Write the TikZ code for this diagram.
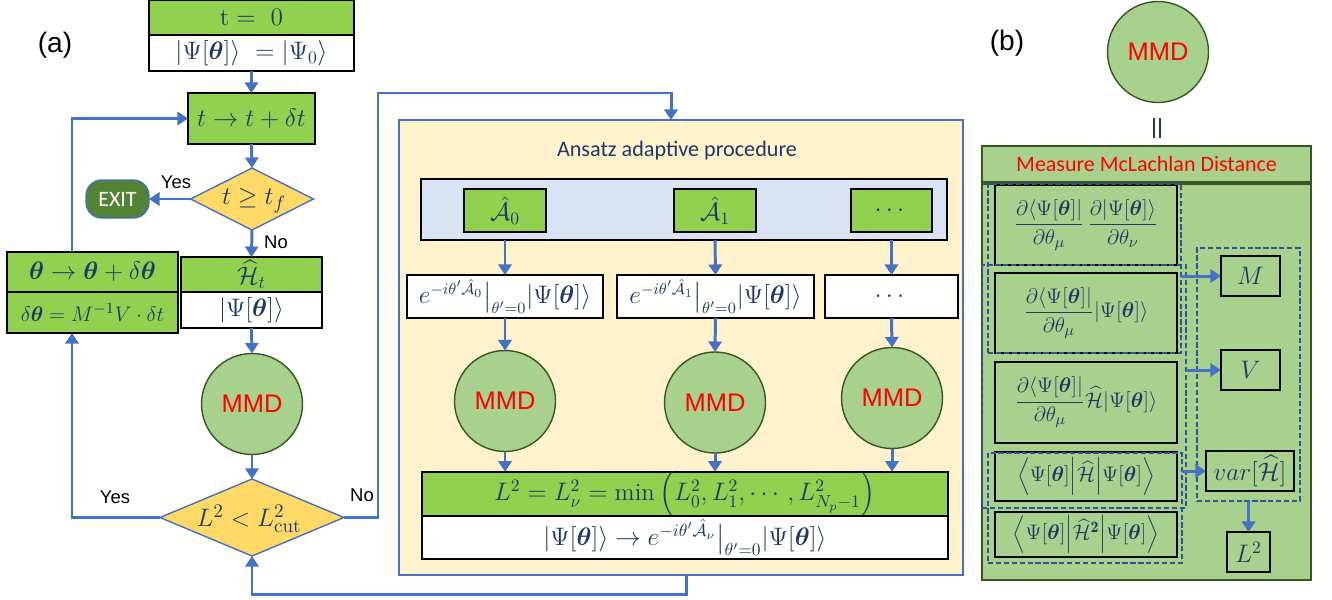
\documentclass[tikz,border=0pt]{standalone}
\usepackage{amsmath,bm}
\usepackage{fontspec}
\newfontfamily\arialf{Liberation Sans}
\newfontfamily\calf{Carlito}
\usetikzlibrary{arrows.meta,shapes.geometric,calc}
\definecolor{navy}{RGB}{31,56,100}
\definecolor{gbox}{RGB}{146,208,80}
\definecolor{lgreen}{RGB}{169,209,142}
\definecolor{dgreen}{RGB}{56,87,35}
\definecolor{exitg}{RGB}{84,130,53}
\definecolor{ablue}{RGB}{68,114,196}
\definecolor{dblue}{RGB}{47,85,151}
\definecolor{yel}{RGB}{255,217,102}
\definecolor{cream}{RGB}{255,242,204}
\definecolor{lblue}{RGB}{218,227,243}
\newdimen\pxu \pxu=0.02cm
\tikzset{
  box/.style={draw=black, line width=0.9pt, inner sep=0pt, outer sep=0pt, text=navy, font=\fontsize{14}{16}\selectfont},
  gb/.style={box, fill=gbox},
  wb/.style={box, fill=white},
  lb/.style={box, fill=lgreen, font=\fontsize{13}{15}\selectfont},
  sz/.style 2 args={minimum width=#1\pxu, minimum height=#2\pxu},
  mmdc/.style={circle, draw=dgreen, line width=0.8pt, fill=lgreen, minimum size=101\pxu, inner sep=0pt, outer sep=0pt, text=red, font=\arialf\fontsize{14.5}{16}\selectfont},
  dec/.style={diamond, draw=ablue, line width=0.8pt, fill=yel, inner sep=0pt, outer sep=0pt},
  dtext/.style={text=navy, font=\fontsize{15.5}{17}\selectfont, inner sep=0pt},
  arr/.style={draw=ablue, line width=1.7pt, -{Triangle[length=6pt,width=7.5pt]}},
  dsh/.style={draw=dblue, line width=0.8pt, dash pattern=on 3pt off 1.5pt, inner sep=0pt, outer sep=0pt},
  lab/.style={font=\arialf\fontsize{10.5}{12}\selectfont},
  plab/.style={font=\arialf\fontsize{16}{18}\selectfont},
}
\begin{document}
\begin{tikzpicture}[x=0.02cm,y=-0.02cm]
\useasboundingbox (0,0) rectangle (1332,599);

% ---------- (a) left flowchart ----------
\node[plab] (la) at (55,45) {(a)};
\node[gb,sz={205}{35}] (t0) at (251.5,17.5) {$\mathrm{t} =\ 0$};
\node[wb,sz={205}{36}] (psi0) at (251.5,53) {$|\Psi[\bm{\theta}]\rangle\ = |\Psi_0\rangle$};
\node[gb,sz={127}{51}] (tstep) at (251.5,118.5) {$t \rightarrow t + \delta t$};
\node[dec,minimum width=123\pxu,minimum height=62\pxu] (dtf) at (252,199) {};
\node[dtext] (dtft) at (254,201) {$t \geq t_f$};
\node[draw=ablue, line width=0.8pt, fill=exitg, rounded corners=9pt, minimum width=63\pxu, minimum height=38\pxu, inner sep=0pt, outer sep=0pt, text=white, font=\calf\fontsize{12.5}{14}\selectfont] (exit) at (117.5,199) {EXIT};
\node[gb,sz={141}{35}] (Ht) at (251.5,274.5) {$\widehat{\mathcal{H}}_t$};
\node[wb,sz={141}{36}] (psiT) at (251.5,310) {$|\Psi[\bm{\theta}]\rangle$};
\node[mmdc] (mmd1) at (252,404) {MMD};
\node[dec,minimum width=184\pxu,minimum height=77\pxu] (dL) at (252,517.5) {};
\node[dtext] (dLt) at (249,519) {$L^2 < L^2_{\mathrm{cut}}$};
\node[gb,sz={171}{40}] (th) at (92.5,272) {$\bm{\theta} \rightarrow \bm{\theta} + \delta\bm{\theta}$};
\node[gb,sz={171}{41},font=\fontsize{12.8}{15}\selectfont] (dth) at (92.5,312.5) {$\delta\bm{\theta} = M^{-1}V\cdot\delta t$};
\node[lab] (yes1) at (176,182) {Yes};
\node[lab] (no1) at (276,242) {No};
\node[lab] (yes2) at (115,497) {Yes};
\node[lab] (no2) at (362,495) {No};

% ---------- middle panel ----------
\node[draw=ablue, line width=1.2pt, fill=cream, minimum width=564\pxu, minimum height=455\pxu, inner sep=0pt, outer sep=0pt] (panel) at (681,347.5) {};
\node[text=navy, font=\calf\fontsize{12.6}{14}\selectfont] (title) at (677,151) {Ansatz adaptive procedure};
\node[box, fill=lblue, sz={526}{61}] (pool) at (684,209.5) {};
\node[gb,sz={82}{43}] (A0) at (505,210.5) {$\hat{\mathcal{A}}_0$};
\node[gb,sz={82}{43}] (A1) at (715,210.5) {$\hat{\mathcal{A}}_1$};
\node[gb,sz={81}{43}] (A2) at (891.5,210.5) {$\cdots$};
\node[wb,sz={196}{43},font=\fontsize{13.3}{15}\selectfont] (E0) at (505,296.5) {$e^{-i\theta'\hat{\mathcal{A}}_0}\big|_{\theta'=0}|\Psi[\bm{\theta}]\rangle$};
\node[wb,sz={197}{43},font=\fontsize{13.3}{15}\selectfont] (E1) at (715.5,296.5) {$e^{-i\theta'\hat{\mathcal{A}}_1}\big|_{\theta'=0}|\Psi[\bm{\theta}]\rangle$};
\node[wb,sz={133}{43}] (E2) at (891.5,296.5) {$\cdots$};
\node[mmdc] (M0) at (505,401) {MMD};
\node[mmdc] (M1) at (715,402.5) {MMD};
\node[mmdc] (M2) at (892,398) {MMD};
\node[gb,sz={526}{43}] (Lbox) at (685,494.5) {$L^2 = L^2_\nu = \min\left(L^2_0, L^2_1, \cdots, L^2_{N_p-1}\right)$};
\node[wb,sz={526}{43}] (Lupd) at (685,537.5) {$|\Psi[\bm{\theta}]\rangle \rightarrow e^{-i\theta'\hat{\mathcal{A}}_\nu}\big|_{\theta'=0}|\Psi[\bm{\theta}]\rangle$};

% ---------- (b) right panel ----------
\node[plab] (lb) at (1007,43) {(b)};
\node[mmdc] (mmdb) at (1158,52) {MMD};
\node[text=navy, inner sep=0pt] (eq) at (1157,128) {\rule{1.3pt}{11pt}\hspace{2.2pt}\rule{1.3pt}{11pt}};
\node[draw=dgreen, line width=0.6pt, fill=lgreen, minimum width=329\pxu, minimum height=36\pxu, inner sep=0pt, outer sep=0pt, text=red, font=\calf\fontsize{12.5}{14}\selectfont] (meas) at (1146.5,164) {Measure McLachlan Distance};
\node[draw=dgreen, line width=0.6pt, fill=lgreen, minimum width=329\pxu, minimum height=396\pxu, inner sep=0pt, outer sep=0pt] (big) at (1146.5,382) {};
\node[lb,sz={182}{80}] (b1) at (1086,225) {$\dfrac{\partial\langle\Psi[\bm{\theta}]|}{\partial\theta_\mu}\,\dfrac{\partial|\Psi[\bm{\theta}]\rangle}{\partial\theta_\nu}$};
\node[lb,sz={182}{80}] (b2) at (1086,313) {$\dfrac{\partial\langle\Psi[\bm{\theta}]|}{\partial\theta_\mu}|\Psi[\bm{\theta}]\rangle$};
\node[lb,sz={182}{81}] (b3) at (1086,402.5) {$\dfrac{\partial\langle\Psi[\bm{\theta}]|}{\partial\theta_\mu}\widehat{\mathcal{H}}|\Psi[\bm{\theta}]\rangle$};
\node[lb,sz={182}{49}] (b4) at (1086,476.5) {$\left\langle\Psi[\bm{\theta}]\middle|\widehat{\mathcal{H}}\middle|\Psi[\bm{\theta}]\right\rangle$};
\node[lb,sz={182}{45}] (b5) at (1086,534.5) {$\left\langle\Psi[\bm{\theta}]\middle|\widehat{\mathcal{H}}^{\mathbf{2}}\middle|\Psi[\bm{\theta}]\right\rangle$};
\node[lb,sz={59}{40},font=\fontsize{14}{16}\selectfont] (Mb) at (1250.5,276) {$M$};
\node[lb,sz={59}{40},font=\fontsize{14}{16}\selectfont] (Vb) at (1250.5,370) {$V$};
\node[lb,sz={88}{40},font=\fontsize{14}{16}\selectfont] (varb) at (1250,471) {$var[\widehat{\mathcal{H}}]$};
\node[lb,sz={43}{40},font=\fontsize{14}{16}\selectfont] (L2b) at (1248.5,552) {$L^2$};
\node[dsh,sz={103}{253}] (DM) at (1248.5,374.5) {};
\node[dsh,sz={193}{169}] (D1) at (1084.5,268.5) {};
\node[dsh,sz={204}{243}] (D2) at (1084,386.5) {};
\node[dsh,sz={194}{110}] (D3) at (1085,508) {};

% ---------- connectors ----------
\coordinate (yx) at (72,0);
\coordinate (noturn) at (378,93);
\coordinate (pin) at (671,120);
\coordinate (pout) at (686,575);
\coordinate (bot) at (686,594);
\draw[arr] (psi0.south) -- (tstep.north);
\draw[arr] (tstep.south) -- (dtf.north);
\draw[arr] (dtf.west) -- (exit.east);
\draw[arr] (dtf.south) -- (Ht.north);
\draw[arr] (psiT.south) -- (mmd1.north);
\draw[arr] (mmd1.south) -- (dL.north);
\draw[arr] (dL.west) -| (yx |- dth.south);
\draw[arr] (yx |- th.north) |- (tstep.west);
\draw[arr] (dL.east) -| (noturn) -| (pin);
\draw[arr] (pout) -- (bot) -| (dL.south);
\draw[arr] (A0.south |- pool.south) -- (E0.north);
\draw[arr] (A1.south |- pool.south) -- (E1.north);
\draw[arr] (A2.south |- pool.south) -- (E2.north);
\draw[arr] (E0.south) -- (M0.north);
\draw[arr] (E1.south) -- (M1.north);
\draw[arr] (E2.south) -- (M2.north);
\draw[arr] (M0.south) -- (M0.south |- Lbox.north);
\draw[arr] (M1.south) -- (M1.south |- Lbox.north);
\draw[arr] (M2.south) -- (M2.south |- Lbox.north);
\draw[arr] (D1.east |- Mb.west) -- (Mb.west);
\draw[arr] (D2.east |- Vb.west) -- (Vb.west);
\draw[arr] (D3.east |- varb.west) -- (varb.west);
\draw[arr] (DM.south) -- (DM.south |- L2b.north);
\end{tikzpicture}
\end{document}
